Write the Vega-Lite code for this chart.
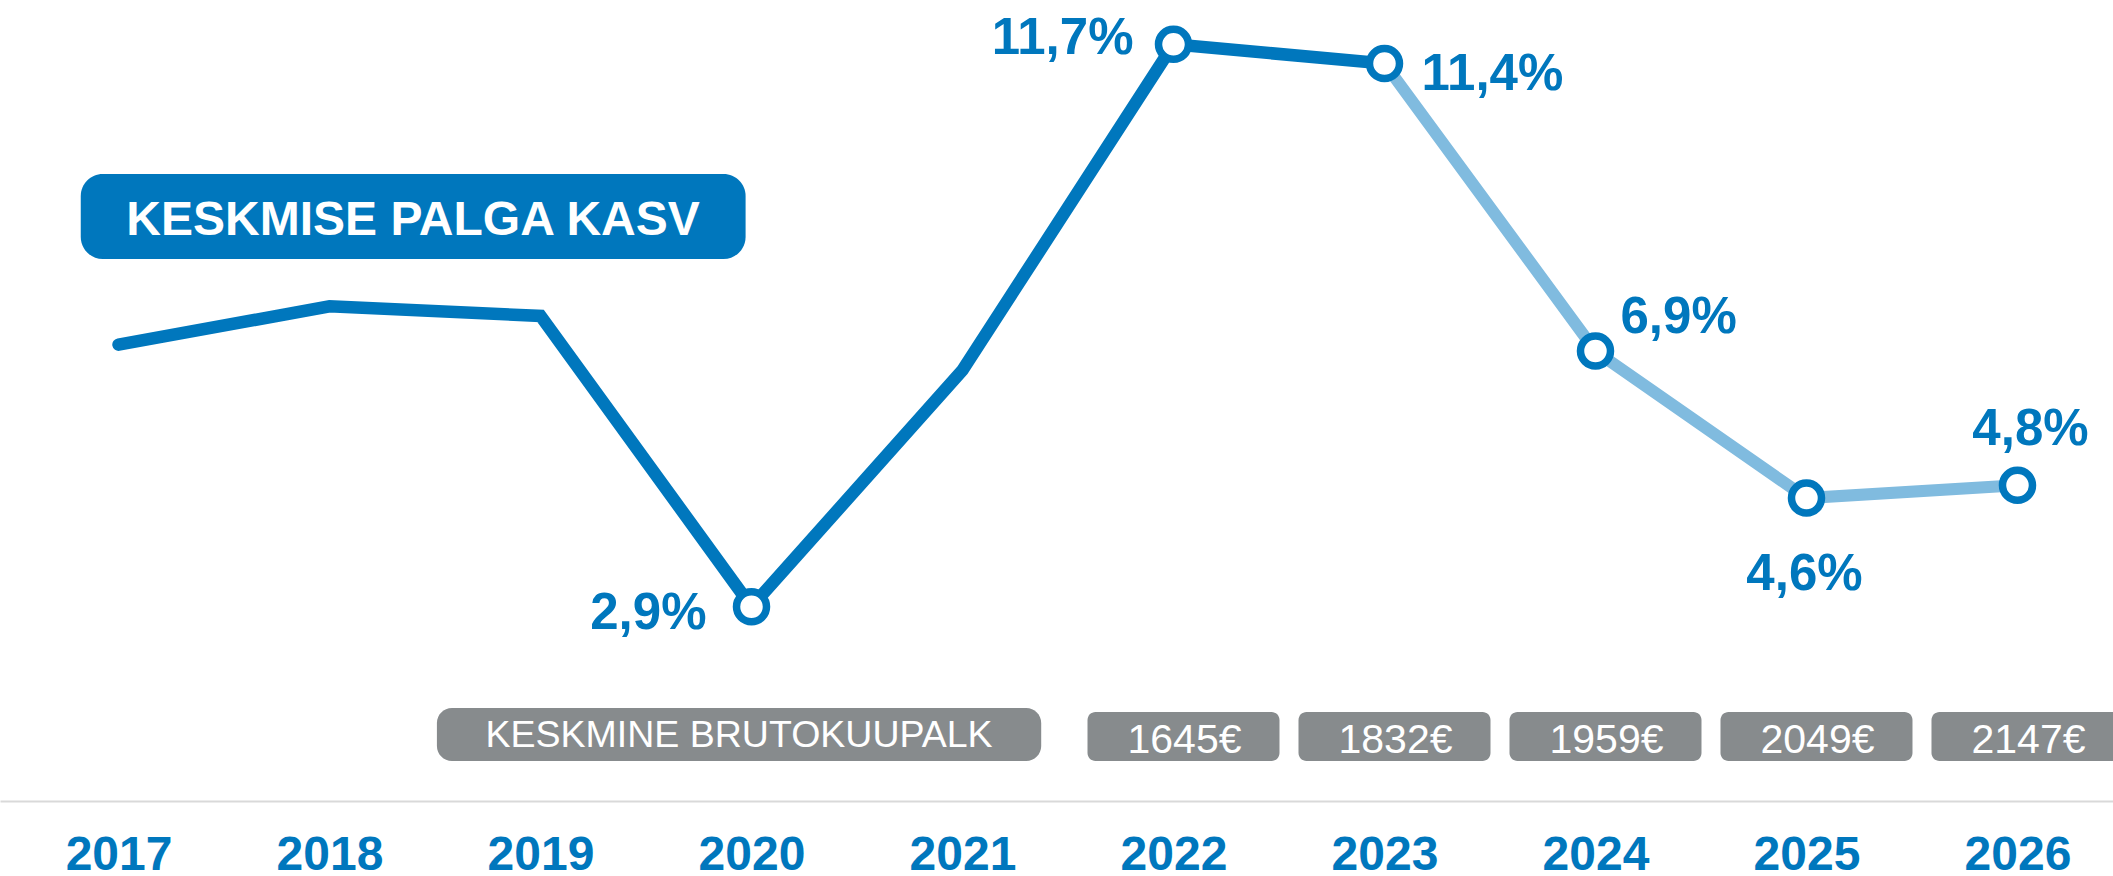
{
  "$schema": "https://vega.github.io/schema/vega-lite/v6.json",
  "width": 2113,
  "height": 801,
  "autosize": {"type": "none"},
  "padding": {"left": 0, "top": 0, "right": 0, "bottom": 75},
  "background": "white",
  "config": {
    "view": {"stroke": null},
    "font": "Liberation Sans",
    "locale": {"number": {"decimal": ",", "thousands": " ", "grouping": [3], "currency": ["", "€"]}}
  },
  "data": {
    "values": [
      {"aasta": 2017, "kasv": 0.070, "palk": null},
      {"aasta": 2018, "kasv": 0.076, "palk": null},
      {"aasta": 2019, "kasv": 0.0745, "palk": null},
      {"aasta": 2020, "kasv": 0.029, "palk": null},
      {"aasta": 2021, "kasv": 0.066, "palk": null},
      {"aasta": 2022, "kasv": 0.117, "palk": 1645},
      {"aasta": 2023, "kasv": 0.114, "palk": 1832},
      {"aasta": 2024, "kasv": 0.069, "palk": 1959},
      {"aasta": 2025, "kasv": 0.046, "palk": 2049},
      {"aasta": 2026, "kasv": 0.048, "palk": 2147}
    ]
  },
  "encoding": {
    "x": {
      "field": "aasta",
      "type": "quantitative",
      "scale": {"domain": [2016.462, 2026.429], "nice": false, "zero": false},
      "axis": {
        "values": [2017, 2018, 2019, 2020, 2021, 2022, 2023, 2024, 2025, 2026],
        "format": "d",
        "title": null,
        "grid": false,
        "ticks": false,
        "tickSize": 0,
        "domainColor": "#d9d9d9",
        "domainWidth": 2,
        "labelFont": "Liberation Sans",
        "labelFontWeight": "bold",
        "labelFontSize": 48,
        "labelColor": "#0077bd",
        "labelPadding": 68,
        "labelBaseline": "alphabetic",
        "labelFlush": false,
        "labelOverlap": false,
        "labelBound": false
      }
    },
    "y": {
      "field": "kasv",
      "type": "quantitative",
      "scale": {"domain": [-0.00141, 0.12394], "nice": false, "zero": false},
      "axis": null
    }
  },
  "layer": [
    {
      "transform": [{"filter": "datum.aasta == 2017"}],
      "mark": {"type": "bar", "color": "#0077bd", "cornerRadius": 22},
      "encoding": {
        "x": {"datum": 2016.821, "type": "quantitative"},
        "x2": {"datum": 2019.972},
        "y": {"datum": 0.09671, "type": "quantitative"},
        "y2": {"datum": 0.08341}
      }
    },
    {
      "transform": [{"filter": "datum.aasta == 2017"}],
      "mark": {"type": "text", "text": "KESKMISE PALGA KASV", "color": "white", "fontSize": 48, "fontWeight": "bold", "align": "center", "baseline": "alphabetic"},
      "encoding": {
        "x": {"datum": 2018.396, "type": "quantitative"},
        "y": {"datum": 0.08717, "type": "quantitative"}
      }
    },
    {
      "transform": [{"filter": "datum.aasta == 2017"}],
      "mark": {"type": "bar", "color": "#878b8d", "cornerRadius": 15},
      "encoding": {
        "x": {"datum": 2018.509, "type": "quantitative"},
        "x2": {"datum": 2021.373},
        "y": {"datum": 0.01315, "type": "quantitative"},
        "y2": {"datum": 0.00485}
      }
    },
    {
      "transform": [{"filter": "datum.aasta == 2017"}],
      "mark": {"type": "text", "text": "KESKMINE BRUTOKUUPALK", "color": "white", "fontSize": 37.5, "align": "center", "baseline": "alphabetic"},
      "encoding": {
        "x": {"datum": 2019.941, "type": "quantitative"},
        "y": {"datum": 0.00704, "type": "quantitative"}
      }
    },
    {
      "transform": [{"filter": "datum.palk != null"}],
      "mark": {"type": "bar", "color": "#878b8d", "width": 192, "xOffset": 10, "cornerRadius": 8},
      "encoding": {
        "y": {"datum": 0.0125},
        "y2": {"datum": 0.00485}
      }
    },
    {
      "transform": [{"filter": "datum.palk != null"}],
      "mark": {"type": "text", "color": "white", "fontSize": 41, "align": "center", "baseline": "alphabetic", "xOffset": 11},
      "encoding": {
        "y": {"datum": 0.0061},
        "text": {"field": "palk", "type": "quantitative", "format": "$d"}
      }
    },
    {
      "transform": [{"filter": "datum.aasta >= 2023"}],
      "mark": {"type": "line", "color": "#80bbdf", "strokeWidth": 12, "strokeCap": "round", "strokeJoin": "miter"}
    },
    {
      "transform": [{"filter": "datum.aasta <= 2023"}],
      "mark": {"type": "line", "color": "#0077bd", "strokeWidth": 12.5, "strokeCap": "round", "strokeJoin": "miter"}
    },
    {
      "transform": [{"filter": "datum.aasta == 2020 || datum.aasta >= 2022"}],
      "mark": {"type": "point", "shape": "circle", "filled": false, "fill": "white", "fillOpacity": 1, "stroke": "#0077bd", "strokeWidth": 7.5, "size": 900, "opacity": 1}
    },
    {
      "transform": [{"filter": "datum.aasta == 2020"}],
      "mark": {"type": "text", "color": "#0077bd", "fontSize": 51, "fontWeight": "bold", "align": "right", "baseline": "alphabetic", "dx": -45, "dy": 22},
      "encoding": {"text": {"field": "kasv", "type": "quantitative", "format": ".1%"}}
    },
    {
      "transform": [{"filter": "datum.aasta == 2022"}],
      "mark": {"type": "text", "color": "#0077bd", "fontSize": 51, "fontWeight": "bold", "align": "right", "baseline": "alphabetic", "dx": -40, "dy": 10},
      "encoding": {"text": {"field": "kasv", "type": "quantitative", "format": ".1%"}}
    },
    {
      "transform": [{"filter": "datum.aasta == 2023"}],
      "mark": {"type": "text", "color": "#0077bd", "fontSize": 51, "fontWeight": "bold", "align": "left", "baseline": "alphabetic", "dx": 37, "dy": 26},
      "encoding": {"text": {"field": "kasv", "type": "quantitative", "format": ".1%"}}
    },
    {
      "transform": [{"filter": "datum.aasta == 2024"}],
      "mark": {"type": "text", "color": "#0077bd", "fontSize": 51, "fontWeight": "bold", "align": "left", "baseline": "alphabetic", "dx": 25, "dy": -18},
      "encoding": {"text": {"field": "kasv", "type": "quantitative", "format": ".1%"}}
    },
    {
      "transform": [{"filter": "datum.aasta == 2025"}],
      "mark": {"type": "text", "color": "#0077bd", "fontSize": 51, "fontWeight": "bold", "align": "center", "baseline": "alphabetic", "dx": -2, "dy": 92},
      "encoding": {"text": {"field": "kasv", "type": "quantitative", "format": ".1%"}}
    },
    {
      "transform": [{"filter": "datum.aasta == 2026"}],
      "mark": {"type": "text", "color": "#0077bd", "fontSize": 51, "fontWeight": "bold", "align": "center", "baseline": "alphabetic", "dx": 13, "dy": -40},
      "encoding": {"text": {"field": "kasv", "type": "quantitative", "format": ".1%"}}
    }
  ]
}
